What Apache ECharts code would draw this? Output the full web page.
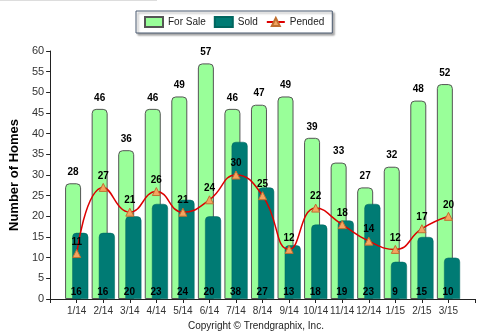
<!DOCTYPE html>
<html><head><meta charset="utf-8">
<script src="https://cdn.jsdelivr.net/npm/echarts@6/dist/echarts.min.js"></script>
<style>html,body{margin:0;padding:0;background:#fff}#c{width:480px;height:336px}</style>
</head><body><div id="c"></div>
<script>
const categories = ['1/14','2/14','3/14','4/14','5/14','6/14','7/14','8/14','9/14','10/14','11/14','12/14','1/15','2/15','3/15'];
const forSale = [28,46,36,46,49,57,46,47,49,39,33,27,32,48,52];
const sold = [16,16,20,23,24,20,38,27,13,18,19,23,9,15,10];
const pended = [11,27,21,26,21,24,30,25,12,22,18,14,12,17,20];
const yTicks = {min:0, max:60, interval:5};

const pad = a => [null].concat(a, [null]);
const axisCats = [''].concat(categories, ['']);
const F = 'Liberation Sans, Arial, sans-serif';

const chart = echarts.init(document.getElementById('c'), null, {renderer:'canvas'});
chart.setOption({
  animation:false,
  textStyle:{fontFamily:F},
  legend:{
    top:11, left:136, orient:'horizontal',
    padding:[5,8,5,8],
    itemGap:8, itemWidth:18, itemHeight:10,
    borderColor:'#4a5a70', borderWidth:1, backgroundColor:'#fff',
    shadowColor:'rgba(0,0,0,0.35)', shadowBlur:2, shadowOffsetX:2, shadowOffsetY:2,
    textStyle:{fontSize:10, color:'#222', fontFamily:F},
    data:[{name:'For Sale', icon:'rect'},{name:'Sold', icon:'rect'},{name:'Pended'}]
  },
  grid:{left:40, right:5, top:51, bottom:37, containLabel:false},
  xAxis:{
    type:'category', data:axisCats, boundaryGap:false,
    axisLine:{lineStyle:{color:'#222', width:1}},
    axisTick:{show:true, length:4, lineStyle:{color:'#222'}},
    axisLabel:{fontSize:10, color:'#333', margin:7, fontFamily:F, interval:0},
    splitLine:{show:false}
  },
  yAxis:{
    type:'value', min:yTicks.min, max:yTicks.max, interval:yTicks.interval,
    name:'Number of Homes', nameLocation:'middle', nameGap:28,
    nameTextStyle:{fontSize:13, fontWeight:'bold', color:'#000', fontFamily:F},
    axisLine:{show:true, lineStyle:{color:'#222'}},
    axisTick:{show:true, length:4, lineStyle:{color:'#222'}},
    axisLabel:{fontSize:11, color:'#333', margin:6, fontFamily:F},
    splitLine:{show:false}
  },
  series:[
    {name:'For Sale', type:'bar', data:pad(forSale), barWidth:16, barGap:'-55%',
     itemStyle:{color:'#99ff99', borderColor:'#555', borderWidth:1, borderRadius:[4,4,0,0]},
     label:{show:true, position:'top', distance:6, fontSize:10, fontWeight:'bold', color:'#000', fontFamily:F},
     z:1},
    {name:'Sold', type:'bar', data:pad(sold), barWidth:16,
     itemStyle:{color:'#007b74', borderColor:'#00665f', borderWidth:0.5, borderRadius:[4,4,0,0]},
     label:{show:true, position:'insideBottom', distance:2, offset:[-4,0], fontSize:10, fontWeight:'bold', color:'#000', fontFamily:F},
     z:2},
    {name:'Pended', type:'line', data:pad(pended), smooth:0.5, connectNulls:false,
     symbol:'triangle', symbolSize:8,
     lineStyle:{color:'#dd0000', width:1.5},
     itemStyle:{color:'#f4a460', borderColor:'#c07030', borderWidth:1},
     label:{show:true, position:'top', distance:2, fontSize:10, fontWeight:'bold', color:'#000', fontFamily:F},
     z:5}
  ],
  graphic:[
    {type:'text', left:188, top:321, style:{text:'Copyright \u00a9 Trendgraphix, Inc.', fontSize:10, fill:'#222', fontFamily:F}},
    {type:'rect', shape:{x:0, y:0, width:157, height:1}, style:{fill:'#ddd'}}
  ]
});
</script></body></html>
